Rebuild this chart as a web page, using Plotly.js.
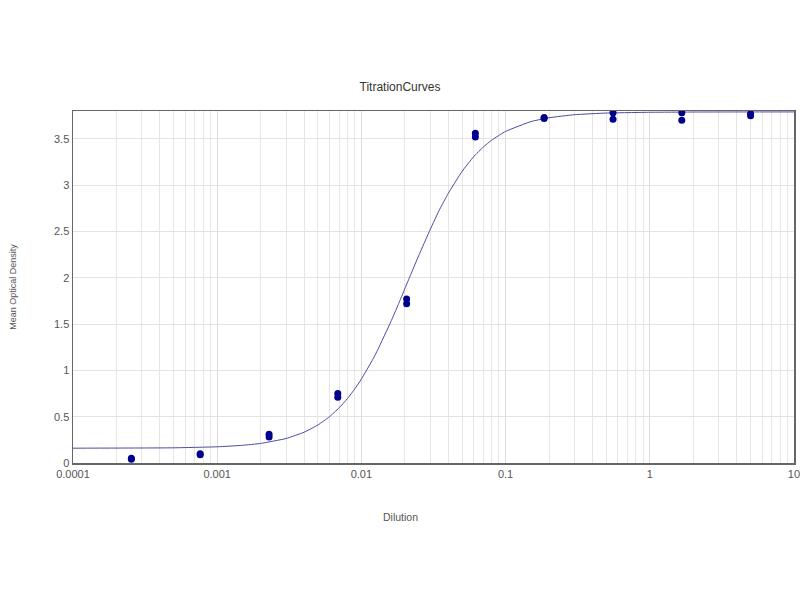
<!DOCTYPE html>
<html>
<head>
<meta charset="utf-8">
<script src="https://cdn.plot.ly/plotly-3.0.1.min.js"></script>
<style>html,body{margin:0;padding:0;background:#fff;}#chart{width:800px;height:600px;}</style>
</head>
<body>
<div id="chart"></div>
<script>
// Measured points (3-fold dilution series, duplicates)
const dilution = [0.000254, 0.000254, 0.000762, 0.000762, 0.00229, 0.00229, 0.00686, 0.00686,
                  0.0206, 0.0206, 0.0617, 0.0617, 0.185, 0.185, 0.556, 0.556, 1.667, 1.667, 5, 5];
const meanOD   = [0.04, 0.05, 0.09, 0.10, 0.28, 0.31, 0.71, 0.75,
                  1.72, 1.77, 3.52, 3.56, 3.72, 3.73, 3.71, 3.78, 3.70, 3.78, 3.75, 3.77];

// Fitted curve
const fitX = [0.0001, 0.0003, 0.0005, 0.001, 0.0015, 0.002, 0.003, 0.004, 0.005, 0.006, 0.007, 0.008,
              0.009, 0.01, 0.012, 0.013, 0.016, 0.018, 0.02, 0.022, 0.025, 0.03, 0.035, 0.04, 0.05,
              0.06, 0.07, 0.08, 0.1, 0.15, 0.2, 0.3, 0.5, 1, 2, 5, 10];
const fitY = [0.160, 0.162, 0.164, 0.175, 0.191, 0.211, 0.264, 0.332, 0.411, 0.499, 0.595, 0.695,
              0.800, 0.906, 1.119, 1.224, 1.525, 1.709, 1.88, 2.036, 2.24, 2.52, 2.742, 2.91, 3.15,
              3.306, 3.41, 3.485, 3.58, 3.686, 3.727, 3.76, 3.778, 3.786, 3.789, 3.79, 3.79];

const xTickVals = [0.0001, 0.001, 0.01, 0.1, 1, 10];
const xTickText = ['0.0001', '0.001', '0.01', '0.1', '1', '10'];
const yTickVals = [0, 0.5, 1, 1.5, 2, 2.5, 3, 3.5];
const yTickText = ['0', '0.5', '1', '1.5', '2', '2.5', '3', '3.5'];

const traces = [
  {
    x: fitX, y: fitY, type: 'scatter', mode: 'lines',
    line: {color: '#4a4aa8', width: 1, shape: 'spline', smoothing: 0.4},
    hoverinfo: 'skip', showlegend: false
  },
  {
    x: dilution, y: meanOD, type: 'scatter', mode: 'markers',
    marker: {color: '#00008b', size: 7},
    showlegend: false
  }
];

const fam = 'Liberation Sans, Arial, sans-serif';

const layout = {
  width: 800, height: 600,
  paper_bgcolor: '#fff', plot_bgcolor: '#fff',
  margin: {l: 73, r: 6, t: 111, b: 137, pad: 0},
  font: {family: fam, size: 11, color: '#555'},
  title: {text: 'TitrationCurves', x: 0.5, xref: 'container', xanchor: 'center',
          y: 1 - 87/600, yref: 'container', yanchor: 'middle',
          font: {family: fam, size: 12, color: '#333'}},
  xaxis: {
    type: 'log', range: [-4, 1.0001],
    tickvals: xTickVals, ticktext: xTickText,
    ticklabeloverflow: 'allow',
    showgrid: true, gridcolor: '#dcdcdc', gridwidth: 1,
    minor: {dtick: 'D1', showgrid: true, gridcolor: '#e6e6e6', gridwidth: 1, ticks: ''},
    showline: true, linecolor: '#666', linewidth: 1.5, mirror: true,
    ticks: '', zeroline: false,
    tickfont: {family: fam, size: 11, color: '#555'}
  },
  yaxis: {
    range: [0, 3.8],
    tickvals: yTickVals, ticktext: yTickText,
    showgrid: true, gridcolor: '#e3e3e3', gridwidth: 1,
    showline: true, linecolor: '#666', linewidth: 1.5, mirror: true,
    ticks: '', zeroline: false,
    tickfont: {family: fam, size: 11, color: '#555'},
    title: {text: 'Mean Optical Density', standoff: 36, font: {family: fam, size: 9, color: '#555'}}
  },
  annotations: [{
    text: 'Dilution', xref: 'paper', yref: 'paper',
    x: (400 - 73) / 721, y: (463 - 517) / 352, xanchor: 'center', yanchor: 'middle',
    showarrow: false, font: {family: fam, size: 10.5, color: '#555'}
  }]
};

Plotly.newPlot('chart', traces, layout, {displayModeBar: false, staticPlot: true});
</script>
</body>
</html>
